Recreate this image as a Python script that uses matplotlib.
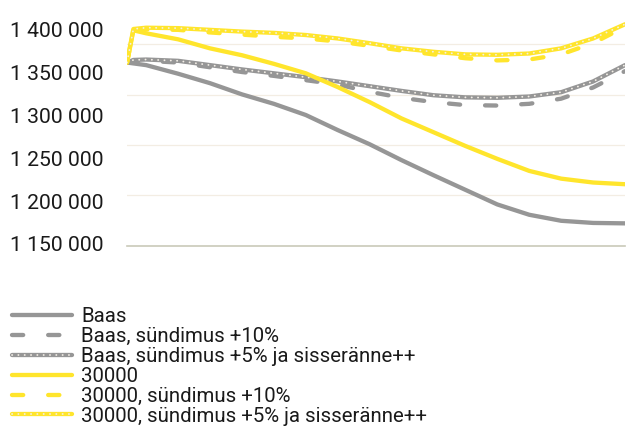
import matplotlib
matplotlib.use("Agg")
import matplotlib.pyplot as plt

years = [2022, 2023, 2025, 2030, 2035, 2040, 2045, 2050, 2055, 2060,
         2065, 2070, 2075, 2080, 2085, 2090, 2095, 2100]

baas = [1361000, 1360000, 1358000, 1348000, 1337000, 1324000, 1313000, 1300000,
        1282500, 1266000, 1247500, 1230000, 1213000, 1196000, 1184000, 1177000,
        1174500, 1174000]
baas_s10 = [1361000, 1363000, 1363000, 1361000, 1355500, 1350000, 1345500, 1340500,
            1335500, 1327000, 1320000, 1315000, 1311500, 1311000, 1313000, 1319000,
            1332000, 1351000]
baas_s5 = [1361000, 1364000, 1364500, 1363000, 1358000, 1353000, 1348500, 1344000,
           1339000, 1333500, 1328000, 1323000, 1320500, 1320000, 1321500, 1326500,
           1339000, 1358000]
k30 = [1361000, 1398500, 1395000, 1388000, 1377500, 1369500, 1359500, 1348500,
       1332500, 1315000, 1296000, 1280000, 1264000, 1249000, 1235000, 1226000,
       1221500, 1219500]
k30_s10 = [1361000, 1399000, 1399500, 1399000, 1396000, 1393500, 1391000, 1389000,
           1385500, 1380500, 1375000, 1370500, 1366000, 1363500, 1364500, 1370500,
           1383500, 1402500]
k30_s5 = [1361000, 1400000, 1401500, 1401000, 1399000, 1397000, 1395500, 1393000,
          1389000, 1383500, 1377500, 1373500, 1370500, 1370000, 1371500, 1377500,
          1389000, 1405500]

labels = ["Baas", "Baas, sündimus +10%", "Baas, sündimus +5% ja sisseränne++",
          "30000", "30000, sündimus +10%", "30000, sündimus +5% ja sisseränne++"]

ytick_values = [1150000, 1200000, 1250000, 1300000, 1350000, 1400000]
ytick_labels = ["1 150 000", "1 200 000", "1 250 000", "1 300 000", "1 350 000", "1 400 000"]
grid_values = [1207000, 1265100, 1323300, 1382200]

GRAY = "#969696"
YELLOW = "#FFE52C"
DOT = "#f3eee6"
LW = 3.1
FS = 15.2
LFS = 14.7

plt.rcParams['font.family'] = ['Roboto', 'DejaVu Sans']

fig = plt.figure(figsize=(6.28, 4.32), dpi=100)
ax = fig.add_axes([127/628, 1-246/432, (625-127)/628, (246-10)/432])

for gv in grid_values:
    ax.axhline(gv, color="#f3ede3", lw=0.9, zorder=0)

def solid(y, c):
    l, = ax.plot(years, y, color=c, lw=LW, solid_capstyle='round',
                 solid_joinstyle='round')
    return l

def dashed(y, c):
    l, = ax.plot(years, y, color=c, lw=LW, linestyle=(0, (2.6, 5.8)),
                 dash_capstyle='round')
    return l

def dotted(y, c):
    l1, = ax.plot(years, y, color=c, lw=LW, solid_capstyle='round')
    l2, = ax.plot(years, y, color=DOT, lw=1.3, linestyle=(0, (0.1, 3.4)),
                  dash_capstyle='round')
    return (l1, l2)

h1 = solid(baas, GRAY)
h2 = dashed(baas_s10, GRAY)
h3 = dotted(baas_s5, GRAY)
h4 = solid(k30, YELLOW)
h5 = dashed(k30_s10, YELLOW)
h6 = dotted(k30_s5, YELLOW)

ax.set_xlim(2022, 2100)
ax.set_ylim(1147674, 1422095)
ax.set_xticks([])
ax.set_yticks(ytick_values)
ax.set_yticklabels(ytick_labels)
ax.tick_params(axis='y', length=0, pad=17, labelsize=FS, labelcolor="#1a1a1a")
for s in ['top', 'right', 'left']:
    ax.spines[s].set_visible(False)
ax.spines['bottom'].set_color("#c9c9b9")
ax.spines['bottom'].set_linewidth(1.2)
ax.patch.set_alpha(0)

leg = fig.legend([h1, h2, h3, h4, h5, h6], labels,
                 loc='upper left', bbox_to_anchor=(12/628, 1-307/432),
                 frameon=False, fontsize=LFS, handlelength=2.95,
                 handletextpad=0.44, labelspacing=0.045, borderpad=0,
                 borderaxespad=0)
for t in leg.get_texts():
    t.set_color("#1a1a1a")

fig.savefig("out.png", dpi=100)
